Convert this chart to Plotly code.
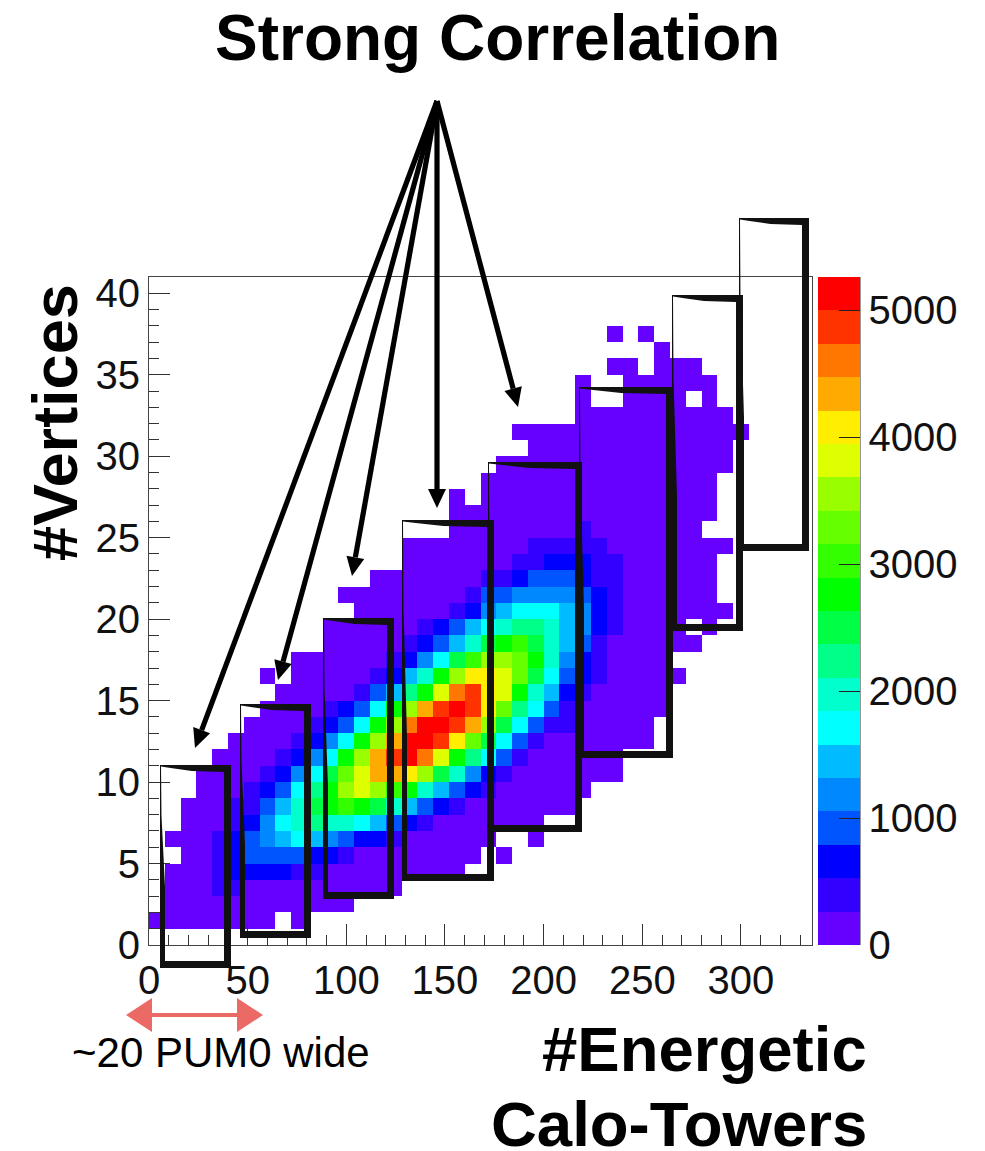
import numpy as np
import plotly.graph_objects as go

W, H = 985, 1151
PL, PR, PT, PB = 149, 812, 277, 945

# --- data: colour band (1-20, 0 = empty) of each 2D histogram cell ---
BAND_WIDTH = 263
N_COLS, N_ROWS = 42, 41
x_bin = 8
band_colors = ["#6600ff", "#3300ff", "#0000ff", "#0055ff", "#0088ff", "#00bbff", "#00ffff",
               "#00ffcc", "#00ff88", "#00ff44", "#00ff00", "#33ff00", "#66ff00", "#99ff00",
               "#ddff00", "#ffee00", "#ffaa00", "#ff7700", "#ff3300", "#ff0000"]
x_ticks = [0, 50, 100, 150, 200, 250, 300]
y_ticks = [0, 5, 10, 15, 20, 25, 30, 35, 40]
z_ticks = [0, 1000, 2000, 3000, 4000, 5000]

first_col = {1: 0, 2: 1, 3: 1, 4: 1, 5: 2, 6: 1, 7: 2, 8: 2, 9: 3, 10: 3, 11: 4, 12: 5, 13: 6,
             14: 7, 15: 8, 16: 7, 17: 9, 18: 11, 19: 11, 20: 13, 21: 12, 22: 14, 23: 16, 24: 16,
             25: 19, 26: 19, 27: 19, 28: 21, 29: 22, 30: 24, 31: 23, 32: 27, 33: 27, 34: 27,
             35: 29, 36: 32, 37: 29}
r01 = [1, 1, 1, 1, 1, 1, 1, 1, 0, 1]
r02 = [1, 1, 1, 1, 1, 1, 1, 1, 1, 1, 1, 1]
r03 = [1, 1, 1, 2, 2, 1, 1, 1, 1, 1, 1, 1, 1, 1, 1]
r04 = [1, 1, 1, 2, 3, 3, 3, 3, 2, 2, 1, 1, 1, 1, 1, 1, 1, 1, 1]
r05 = [1, 1, 2, 3, 4, 4, 4, 4, 3, 3, 2, 1, 1, 1, 1, 1, 1, 1, 1, 0, 1]
r06 = [1, 1, 1, 2, 3, 4, 5, 6, 7, 6, 5, 4, 3, 3, 2, 1, 1, 1, 1, 1, 1, 0, 0, 1]
r07 = [1, 1, 1, 2, 3, 5, 7, 8, 9, 8, 8, 7, 6, 4, 3, 2, 1, 1, 1, 1, 1, 1, 1]
r08 = [1, 1, 1, 2, 2, 4, 6, 8, 10, 11, 12, 11, 10, 8, 6, 4, 3, 2, 1, 1, 1, 1, 1, 1, 1]
r09 = [1, 1, 1, 2, 3, 4, 7, 9, 11, 14, 15, 14, 12, 11, 8, 6, 4, 3, 2, 1, 1, 1, 1, 1, 1]
r10 = [1, 1, 1, 1, 2, 3, 5, 7, 10, 13, 15, 17, 17, 16, 14, 10, 8, 5, 3, 2, 1, 1, 1, 1, 1, 1, 1]
r11 = [1, 1, 1, 1, 2, 3, 5, 7, 11, 14, 17, 19, 20, 18, 15, 11, 9, 7, 4, 2, 1, 1, 1, 1, 1, 1]
r12 = [1, 1, 1, 1, 2, 3, 5, 7, 11, 14, 17, 20, 20, 19, 16, 13, 10, 7, 4, 2, 1, 1, 1, 1, 1, 1, 1]
r13 = [1, 1, 1, 1, 2, 3, 4, 7, 11, 14, 18, 20, 20, 19, 17, 14, 10, 7, 4, 2, 2, 1, 1, 1, 1, 1]
r14 = [1, 1, 1, 1, 2, 3, 4, 7, 11, 14, 17, 19, 20, 19, 16, 13, 9, 7, 4, 2, 1, 1, 1, 1, 1, 1]
r15 = [1, 1, 1, 1, 1, 2, 4, 6, 9, 11, 15, 18, 19, 16, 15, 11, 8, 6, 3, 2, 1, 1, 1, 1, 1]
r16 = [1, 0, 1, 1, 1, 1, 1, 2, 3, 6, 8, 11, 14, 16, 16, 15, 13, 10, 7, 4, 3, 2, 1, 1, 1, 1, 1]
r17 = [1, 1, 1, 1, 1, 1, 2, 3, 5, 7, 10, 12, 14, 14, 13, 11, 8, 5, 3, 2, 1, 1, 1, 1]
r18 = [1, 1, 1, 1, 1, 2, 3, 4, 6, 8, 10, 11, 12, 10, 8, 6, 4, 2, 1, 1, 1, 1, 1, 1]
r19 = [1, 1, 1, 1, 1, 1, 2, 3, 4, 6, 7, 8, 9, 9, 8, 6, 5, 3, 2, 1, 1, 1, 1, 0, 1]
r20 = [1, 1, 1, 1, 1, 1, 2, 3, 5, 6, 7, 7, 7, 6, 5, 3, 2, 1, 1, 1, 1, 1, 1, 1]
r21 = [1, 1, 1, 1, 1, 1, 1, 1, 2, 4, 4, 5, 5, 5, 5, 4, 3, 2, 1, 1, 1, 1, 1, 1]
r22 = [1, 1, 1, 1, 1, 1, 1, 2, 2, 3, 4, 4, 4, 3, 2, 2, 1, 1, 1, 1, 1, 1]
r23 = [1, 1, 1, 1, 1, 1, 1, 2, 2, 3, 3, 3, 2, 2, 1, 1, 1, 1, 1, 1]
r24 = [1, 1, 1, 1, 1, 1, 1, 1, 2, 2, 2, 2, 2, 1, 1, 1, 1, 1, 1, 1, 1]
r25 = [1, 1, 1, 1, 1, 1, 1, 1, 2, 1, 1, 1, 1, 1, 1, 1]
r26 = [1, 1, 1, 1, 1, 1, 1, 1, 1, 1, 1, 1, 1, 1, 1, 1, 1]
r27 = [1, 0, 1, 1, 1, 1, 1, 1, 1, 1, 1, 1, 1, 1, 1, 1, 1]
r28 = [1, 1, 1, 1, 1, 1, 1, 1, 1, 1, 1, 1, 1, 1, 1]
r29 = [1, 1, 1, 1, 1, 1, 1, 1, 1, 1, 1, 1, 1, 1, 1]
r30 = [1, 1, 1, 1, 1, 1, 1, 1, 1, 1, 1, 1, 1]
r31 = [1, 1, 1, 1, 1, 1, 1, 1, 1, 1, 1, 1, 1, 1, 1]
r32 = [1, 1, 1, 1, 1, 1, 1, 1, 1, 1]
r33 = [1, 0, 0, 1, 1, 1, 1, 0, 1]
r34 = [1, 0, 0, 1, 1, 1, 1, 1, 1]
r35 = [1, 1, 0, 1, 1, 1]
r36 = [1]
r37 = [1, 0, 1]
rows = {1: r01, 2: r02, 3: r03, 4: r04, 5: r05, 6: r06, 7: r07, 8: r08, 9: r09, 10: r10, 11: r11,
        12: r12, 13: r13, 14: r14, 15: r15, 16: r16, 17: r17, 18: r18, 19: r19, 20: r20, 21: r21,
        22: r22, 23: r23, 24: r24, 25: r25, 26: r26, 27: r27, 28: r28, 29: r29, 30: r30, 31: r31,
        32: r32, 33: r33, 34: r34, 35: r35, 36: r36, 37: r37}

# hand-drawn selection boxes on top of the picture: left, right, top, bottom (pixels)
boxes_px = [(160, 231, 765, 968), (240, 311, 704, 938), (323, 394, 618, 899), (402, 494, 520, 881),
            (488, 582, 462, 832), (579, 673, 387, 758), (672, 743, 295, 631), (739, 809, 218, 551)]
arrow_tips_px = [(195, 748), (278, 680), (352, 576), (437, 508), (518, 407)]
ARROW_APEX_PX = (437, 101)

# --- histogram grid ---
z = [[None] * N_COLS for _ in range(N_ROWS)]
for r, vals in rows.items():
    for i, b in enumerate(vals):
        if b:
            z[r][first_col[r] + i] = (b - 0.5) * BAND_WIDTH
zmax = BAND_WIDTH * len(band_colors)
colorscale = []
for i, c in enumerate(band_colors):
    colorscale += [[i / len(band_colors), c], [(i + 1) / len(band_colors), c]]

fig = go.Figure(go.Heatmap(
    z=z,
    x=[x_bin * i for i in range(N_COLS + 1)],
    y=list(range(N_ROWS + 1)),
    zmin=0, zmax=zmax, colorscale=colorscale, hoverongaps=False,
    colorbar=dict(
        x=(818 - PL) / (PR - PL), xanchor="left", xpad=0, ypad=0, thickness=42, thicknessmode="pixels",
        len=1, lenmode="fraction", y=0.5, yanchor="middle", outlinewidth=0,
        tickvals=z_ticks, ticks="inside", ticklen=21, tickcolor="#222", tickwidth=1,
        tickfont=dict(family="Liberation Sans", size=40, color="#111"),
    ),
))


def px(x):
    return (x - PL) / (PR - PL)


def py(y):
    return (PB - y) / (PB - PT)


def poly(points, fill, line_w=0, opacity=1.0):
    d = "M " + " L ".join(f"{px(a):.5f},{py(b):.5f}" for a, b in points) + " Z"
    return dict(type="path", xref="paper", yref="paper", path=d, fillcolor=fill, opacity=opacity,
                line=dict(width=line_w, color=fill), layer="above")


shapes = []
# colour-bar right edge
shapes.append(dict(type="line", xref="paper", yref="paper", x0=px(860), x1=px(860), y0=py(PT), y1=py(PB),
                   line=dict(color="#333", width=1)))
# tapered hand-drawn boxes: thin at the top-left, thick at the right and bottom
w = 7
for L, R, T, B in boxes_px:
    bw, bh = R - L, B - T
    shapes.append(poly([(L, T), (R, T), (R, B), (L, B), (L, T),
                        (L + 1, T + 1.5), (L + 1.5, T + 0.25 * bh), (L + w - 2, T + 0.6 * bh), (L + w - 2, B - w),
                        (R - w, B - w), (R - w, T + w), (L + 0.45 * bw, T + w - 1), (L + 0.15 * bw, T + 3),
                        (L + 1, T + 1.5)],
                       "#111111"))
# black arrows
for tx, ty in arrow_tips_px:
    ax, ay = ARROW_APEX_PX
    d = np.array([tx - ax, ty - ay], float)
    d /= np.hypot(*d)
    n = np.array([-d[1], d[0]])
    tip = np.array([tx, ty], float)
    base = tip - d * 19
    apex = np.array([ax, ay], float)
    shapes.append(poly([tuple(apex + n * 2.6), tuple(base + n * 2.6), tuple(base - n * 2.6), tuple(apex - n * 2.6)], "#000"))
    shapes.append(poly([tuple(tip), tuple(base + n * 9), tuple(base - n * 9)], "#000"))
# red double arrow
RED = "#ec6a66"
shapes.append(poly([(150, 1013), (240, 1013), (240, 1017), (150, 1017)], RED))
shapes.append(poly([(126, 1015), (152, 998), (152, 1032)], RED))
shapes.append(poly([(263, 1015), (237, 998), (237, 1032)], RED))


def text(x, y, s, size, bold=True, xanchor="center", angle=0):
    return dict(x=px(x), y=py(y), xref="paper", yref="paper", text=f"<b>{s}</b>" if bold else s,
                showarrow=False, xanchor=xanchor, yanchor="middle", textangle=angle,
                font=dict(family="Liberation Sans", size=size, color="#000"))


annotations = [
    text(497, 38, "Strong Correlation", 64),
    text(55, 423, "#Vertices", 63, angle=-90),
    text(869, 1049, "#Energetic", 63.5, xanchor="right"),
    text(869, 1124, "Calo-Towers", 63.5, xanchor="right"),
    text(221, 1052, "~20 PUM0 wide", 42, bold=False),
]

axis_common = dict(showgrid=False, zeroline=False, showline=True, mirror=True, linecolor="#444", linewidth=1,
                   ticks="inside", ticklen=21, tickcolor="#333", tickwidth=1,
                   tickfont=dict(family="Liberation Sans", size=40, color="#111"))
fig.update_layout(
    width=W, height=H, autosize=False,
    margin=dict(l=PL, r=W - PR, t=PT, b=H - PB, autoexpand=False, pad=0),
    paper_bgcolor="white", plot_bgcolor="white", showlegend=False,
    xaxis=dict(range=[0, x_bin * N_COLS], tickvals=x_ticks, ticktext=[str(v) for v in x_ticks],
               minor=dict(dtick=10, ticks="inside", ticklen=10, tickcolor="#333", tickwidth=1), **axis_common),
    yaxis=dict(range=[0, N_ROWS], tickvals=y_ticks, ticktext=[str(v) for v in y_ticks],
               minor=dict(dtick=1, ticks="inside", ticklen=10, tickcolor="#333", tickwidth=1), **axis_common),
    shapes=shapes, annotations=annotations,
)
fig.write_html("out.html", config={"displayModeBar": False},
               post_script="document.body.style.margin='0';document.documentElement.style.overflow='hidden';")
